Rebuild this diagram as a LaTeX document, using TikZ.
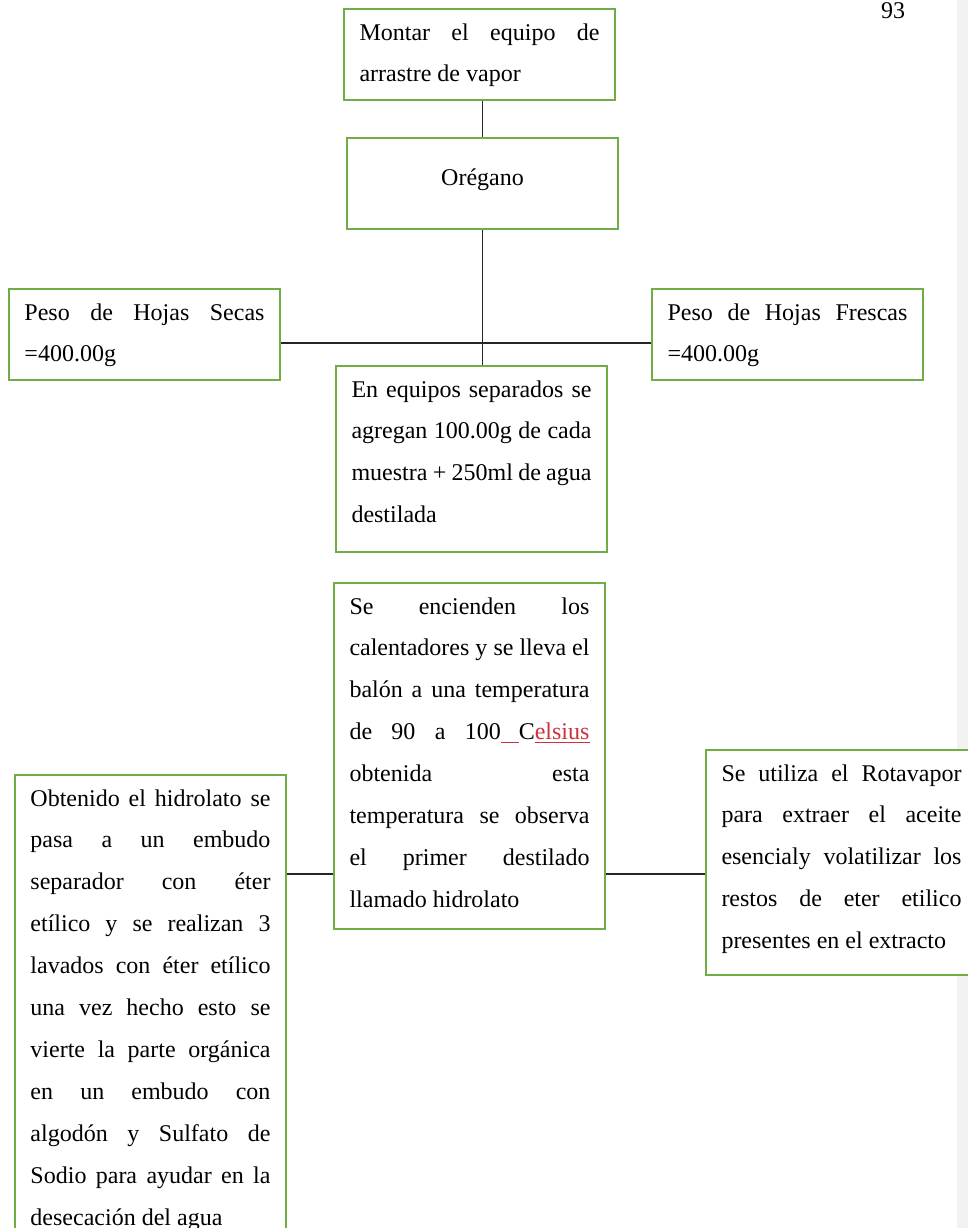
\documentclass[tikz,border=0pt]{standalone}
\usepackage{fontspec}
\setmainfont{Liberation Serif}
\definecolor{verdecaja}{HTML}{70AD47}
\definecolor{rojoword}{RGB}{205,50,60}
\begin{document}
\begin{tikzpicture}[x=0.5pt,y=-0.5pt,
    caja/.style={draw=verdecaja,line width=1pt,fill=white,anchor=north west,
      text width=120pt,inner xsep=7.75pt,inner ysep=4pt,text height=11.5pt,
      align=justify,font=\fontsize{12pt}{20.95pt}\selectfont},
    linea/.style={draw=black!85,line width=0.65pt}]
            \useasboundingbox (0,0) rectangle (968,1228);
            \clip (0,0) rectangle (968,1228);
            \fill[gray!10] (957,0) rectangle (968,1228);
            \node[font=\fontsize{12pt}{14pt}\selectfont] (pagina) at (893,10.5) {93};
            \node[caja,text depth=26pt] (montar) at (343,8) {Montar el equipo de\linebreak arrastre de vapor};
            \node[caja,align=center,text height=19.5pt,text depth=18pt] (oregano) at (346,137) {Orégano};
            \node[caja,text depth=26pt] (secas) at (8,288) {Peso de Hojas Secas\linebreak =400.00g};
            \node[caja,text depth=26pt] (frescas) at (651,288) {Peso de Hojas Frescas\linebreak =400.00g};
            \node[caja,text depth=73.5pt] (equipos) at (335,365) {En equipos separados se\linebreak agregan 100.00g de cada\linebreak muestra + 250ml de agua\linebreak destilada};
            \node[caja,text depth=153.5pt] (enciende) at (333,582) {Se encienden los\linebreak calentadores y se lleva el\linebreak balón a una temperatura\linebreak de 90 a 100{\color{rojoword}\underline{\hspace*{9pt}}}C{\color{rojoword}\underline{elsius}}\linebreak obtenida esta\linebreak temperatura se observa\linebreak el primer destilado\linebreak llamado hidrolato};
            \node[caja,text depth=223.5pt] (obtenido) at (14,774) {Obtenido el hidrolato se\linebreak pasa a un embudo\linebreak separador con éter\linebreak etílico y se realizan 3\linebreak lavados con éter etílico\linebreak una vez hecho esto se\linebreak vierte la parte orgánica\linebreak en un embudo con\linebreak algodón y Sulfato de\linebreak Sodio para ayudar en la\linebreak desecación del agua};
            \node[caja,text depth=93pt] (rotavapor) at (705,749) {Se utiliza el Rotavapor\linebreak para extraer el aceite\linebreak esencialy volatilizar los\linebreak restos de eter etilico\linebreak presentes en el extracto};
            % conectores
            \draw[linea] (oregano.north) -- (oregano.north |- montar.south);
            \draw[linea] (oregano.south) -- (oregano.south |- equipos.north);
            \draw[linea] ([yshift=-4.25pt]secas.east) -- ([yshift=-4.25pt]frescas.west);
            \coordinate (nivel) at (0,874);
            \draw[linea] (obtenido.east |- nivel) -- (enciende.west |- nivel);
            \draw[linea] (enciende.east |- nivel) -- (rotavapor.west |- nivel);
        \end{tikzpicture}
\end{document}
